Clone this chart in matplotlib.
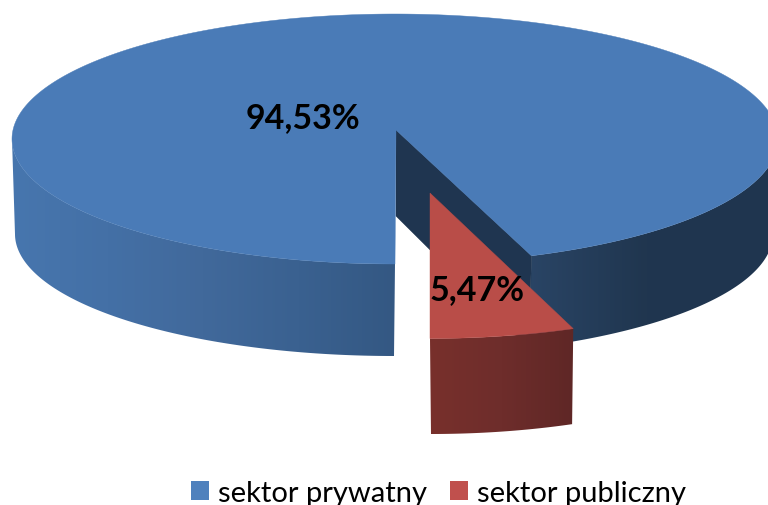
import numpy as np
import matplotlib
matplotlib.use("Agg")
import matplotlib.pyplot as plt
from matplotlib.patches import Polygon, Patch
from matplotlib.colors import LinearSegmentedColormap

categories = ["sektor prywatny", "sektor publiczny"]
values = [94.53, 5.47]
value_labels = ["94,53%", "5,47%"]

BLUE_TOP = "#4A7BB7"
RED_TOP = "#B94D48"
BLUE_KEY = "#4F81BD"
RED_KEY = "#C0504D"
WALL = "#1F3550"

plt.rcParams["font.family"] = ["Lato", "DejaVu Sans"]
fig = plt.figure(figsize=(7.68, 5.06), dpi=100)
ax = fig.add_axes([0, 0, 1, 1])
ax.set_xlim(0, 768)
ax.set_ylim(506, 0)
ax.axis("off")

red_span = np.radians(360 * values[1] / sum(values)) * 1.06   # slight perspective widening


def arc(t, cx, cy, rx, ry):
    return np.column_stack([cx + rx * np.sin(t), cy + ry * np.cos(t)])


def top_blue(t):
    return arc(t, 395, 140, 383, 125)


def bot_blue(t):
    return arc(t, 394, 235, 379, 122)


def top_red(t):
    return arc(t, 430, 189.5, 402, 150)


def bot_red(t):
    return arc(t, 431, 285, 396, 150)


def gradient(poly_pts, x0, x1, colours, z):
    cmap = LinearSegmentedColormap.from_list("g", colours)
    im = ax.imshow(np.linspace(0, 1, 256)[None, :], extent=[x0, x1, 506, 0],
                   cmap=cmap, aspect="auto", zorder=z, interpolation="bilinear")
    clip = Polygon(poly_pts, closed=True, transform=ax.transData,
                   facecolor="none", edgecolor="none")
    ax.add_patch(clip)
    im.set_clip_path(clip)


def side(tfun, bfun, t):
    return np.vstack([tfun(t), bfun(t[::-1])])


# right outer wall of the large slice
t_r = np.linspace(red_span, np.pi / 2, 120)
gradient(side(top_blue, bot_blue, t_r), 525, 768,
         ["#2A4566", "#20364F", "#1F3550"], 1)

# inner cut wall
apex = np.array([396, 131])
edge_top = top_blue(np.array([red_span]))[0]
edge_bot = bot_blue(np.array([red_span]))[0]
ax.add_patch(Polygon([apex, edge_top, edge_bot, apex + [0, 86]], closed=True,
                     facecolor=WALL, edgecolor=WALL, lw=0.4, zorder=2))

# left outer wall
t_l = np.linspace(1.5 * np.pi, 2 * np.pi, 160)
gradient(side(top_blue, bot_blue, t_l), 12, 395,
         ["#4776AE", "#4470A6", "#41699B", "#3A6190", "#345883"], 2)

# top of the large slice
t_b = np.linspace(red_span, 2 * np.pi, 500)
ax.add_patch(Polygon(np.vstack([apex, top_blue(t_b)]), closed=True,
                     facecolor=BLUE_TOP, edgecolor=BLUE_TOP, lw=0.3, zorder=3))

# small slice
t_s = np.linspace(0, red_span, 60)
gradient(side(top_red, bot_red, t_s), 430, 574,
         ["#78302C", "#6E2D2B", "#5F2726"], 4)
ax.add_patch(Polygon(np.vstack([[430, 194], top_red(t_s)]), closed=True,
                     facecolor=RED_TOP, edgecolor=RED_TOP, lw=0.3, zorder=5))

# value labels
ax.text(303, 118, value_labels[0], ha="center", va="center", fontsize=24.5,
        fontweight="bold", color="black", zorder=6)
ax.text(477.5, 290.5, value_labels[1], ha="center", va="center", fontsize=24.5,
        fontweight="bold", color="black", zorder=6)

# legend
handles = [Patch(facecolor=BLUE_KEY, label=categories[0]),
           Patch(facecolor=RED_KEY, label=categories[1])]
ax.legend(handles=handles, ncol=2, frameon=False, loc="lower left",
          bbox_to_anchor=(190.5 / 768, -1 / 506), borderaxespad=0, borderpad=0,
          fontsize=21, handlelength=0.63, handleheight=0.62,
          handletextpad=0.31, columnspacing=0.79, labelspacing=0)

ax.set_xlim(0, 768)
ax.set_ylim(506, 0)
fig.savefig("out.png", dpi=100)
